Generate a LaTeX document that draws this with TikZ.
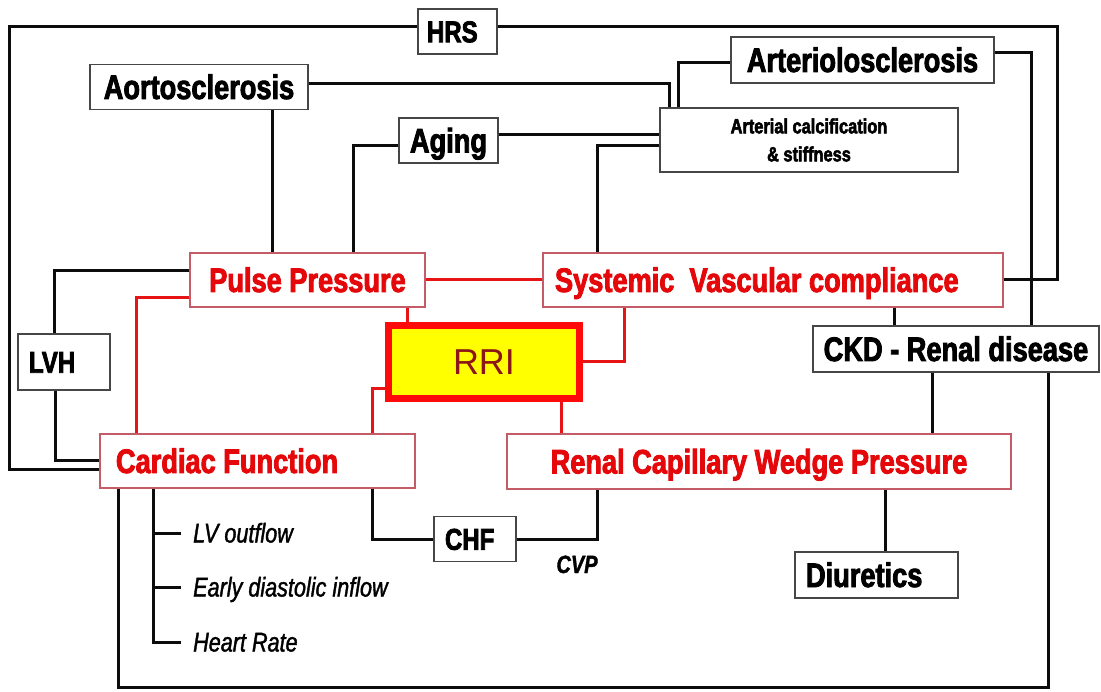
\documentclass[tikz,border=0pt]{standalone}
\usepackage{fontspec}
\newfontfamily\imp{Liberation Sans Bold}[FakeStretch=0.8,FakeBold=2.5]
\newfontfamily\impi[FakeStretch=0.8,FakeBold=1.4]{Liberation Sans}
\newfontfamily\arialf{Liberation Sans}
\definecolor{redtext}{RGB}{228,8,10}
\definecolor{redbord}{RGB}{196,92,104}
\definecolor{boxgray}{RGB}{70,70,70}
\definecolor{linek}{RGB}{12,12,12}
\definecolor{redline}{RGB}{230,20,20}
\definecolor{rribord}{RGB}{255,10,10}
\definecolor{rrifill}{RGB}{255,255,0}
\definecolor{rritext}{RGB}{140,22,22}
\begin{document}
\begin{tikzpicture}[x=1pt,y=-1pt,
  bx/.style={draw=boxgray,line width=1.4pt,fill=white,inner sep=0pt,
    font=\imp\fontsize{34}{36}\selectfont,text=black},
  rbx/.style={bx,draw=redbord,text=redtext},
  smallfont/.style={font=\imp\fontsize{30}{32}\selectfont},
  capbig/.style={text height=24pt,text depth=0pt},
  capsmall/.style={text height=21.5pt,text depth=0pt},
  blk/.style={draw=linek,line width=3pt},
  rln/.style={draw=redline,line width=3pt},
  itl/.style={font=\impi\itshape\fontsize{27}{28}\selectfont,anchor=west,inner sep=0pt,
    text height=19pt,text depth=0pt}
]
\fill[white] (0,0) rectangle (1101,692);
\useasboundingbox (0,0) rectangle (1101,692);

% ---- boxes ----
\node[bx,smallfont,capsmall,minimum width=79pt,minimum height=45pt] (hrs) at (457.5,31.5) {\makebox[61pt][l]{HRS}};
\node[bx,capbig,minimum width=218pt,minimum height=45pt] (aorto) at (199,87) {Aortosclerosis};
\node[bx,capbig,minimum width=263pt,minimum height=46pt] (arter) at (862.5,60) {Arteriolosclerosis};
\node[bx,font=\imp\fontsize{20.5}{28}\selectfont,align=center,
  minimum width=298pt,minimum height=64pt] (calc) at (809,140) {Arterial calcification\\\& stiffness};
\node[bx,capbig,minimum width=99pt,minimum height=45pt] (aging) at (448.5,140.5) {Aging};
\node[rbx,capbig,minimum width=235pt,minimum height=54pt] (pp) at (307.5,280) {Pulse Pressure};
\node[rbx,capbig,minimum width=460pt,minimum height=54pt] (svc) at (773,280) {\makebox[436pt][l]{Systemic\ \ Vascular compliance}};
\node[bx,smallfont,capsmall,minimum width=92pt,minimum height=56pt] (lvh) at (64,362) {\makebox[70pt][l]{LVH}};
\node[draw=rribord,line width=7pt,fill=rrifill,inner sep=0pt,minimum width=191pt,minimum height=73pt,
  font=\arialf\fontsize{36}{40}\selectfont,text=rritext,text height=26pt,text depth=0pt] (rri) at (484,362) {RRI};
\node[bx,capbig,minimum width=286pt,minimum height=46pt] (ckd) at (956,349) {CKD - Renal disease};
\node[rbx,capbig,minimum width=315pt,minimum height=54pt] (cf) at (257.5,461) {\makebox[283pt][l]{Cardiac Function}};
\node[rbx,capbig,minimum width=504pt,minimum height=55pt] (rcwp) at (759,461.5) {Renal Capillary Wedge Pressure};
\node[bx,smallfont,capsmall,minimum width=82pt,minimum height=45pt] (chf) at (475,539) {\makebox[60pt][l]{CHF}};
\node[bx,capbig,minimum width=163pt,minimum height=46pt] (diur) at (876.5,575) {\makebox[141pt][l]{Diuretics}};

% ---- italic labels ----
\node[itl] (lvo) at (193,533) {LV outflow};
\node[itl] (edi) at (193,587) {Early diastolic inflow};
\node[itl] (hr) at (193,642) {Heart Rate};
\node[font=\impi\bfseries\itshape\fontsize{25}{26}\selectfont,inner sep=0pt,text height=18pt,text depth=0pt] (cvp) at (577,564) {CVP};

% ---- free corner points ----
\coordinate (tl) at (9,27);
\coordinate (tr) at (1057,27);
\coordinate (bl) at (118,687);
\coordinate (br) at (1048,687);
\coordinate (tb) at (153,642);

% ---- black connectors ----
\draw[blk] (hrs.west |- tl) -- (tl) |- (cf.west |- 0,470);
\draw[blk] (hrs.east |- tr) -- (tr) |- (svc.east);
\draw[blk] (aorto.east |- 0,84) -| (calc.north -| 669,0);
\draw[blk] (aorto.south -| 272,0) -- (pp.north -| 272,0);
\draw[blk] (arter.west |- 0,63) -| (calc.north -| 678,0);
\draw[blk] (arter.east |- 0,53) -| (ckd.north -| 1031,0);
\draw[blk] (aging.east |- 0,135) -- (calc.west |- 0,135);
\draw[blk] (aging.west |- 0,146) -| (pp.north -| 353,0);
\draw[blk] (calc.west |- 0,146) -| (svc.north -| 597,0);
\draw[blk] (pp.west |- 0,271) -| (lvh.north -| 54,0);
\draw[blk] (lvh.south -| 55,0) |- (cf.west |- 0,461);
\draw[blk] (cf.south -| bl) -- (bl) -- (br) -- (ckd.south -| br);
\draw[blk] (cf.south -| tb) -- (tb) -- (hr.west -| 181,0);
\draw[blk] (lvo.west -| tb) -- (lvo.west -| 181,0);
\draw[blk] (edi.west -| tb) -- (edi.west -| 181,0);
\draw[blk] (cf.south -| 372,0) |- (chf.west);
\draw[blk] (chf.east) -| (rcwp.south -| 597,0);
\draw[blk] (svc.south -| 894,0) -- (ckd.north -| 894,0);
\draw[blk] (ckd.south -| 932,0) -- (rcwp.north -| 932,0);
\draw[blk] (rcwp.south -| 885,0) -- (diur.north -| 885,0);

% ---- red connectors ----
\draw[rln] (pp.east) -- (svc.west);
\draw[rln] (pp.west |- 0,298) -| (cf.north -| 136,0);
\draw[rln] (pp.south -| 407,0) -- (rri.north -| 407,0);
\draw[rln] (svc.south -| 624,0) |- (rri.east);
\draw[rln] (rri.west |- 0,389) -| (cf.north -| 372,0);
\draw[rln] (rri.south -| 561,0) -- (rcwp.north -| 561,0);
\end{tikzpicture}
\end{document}
